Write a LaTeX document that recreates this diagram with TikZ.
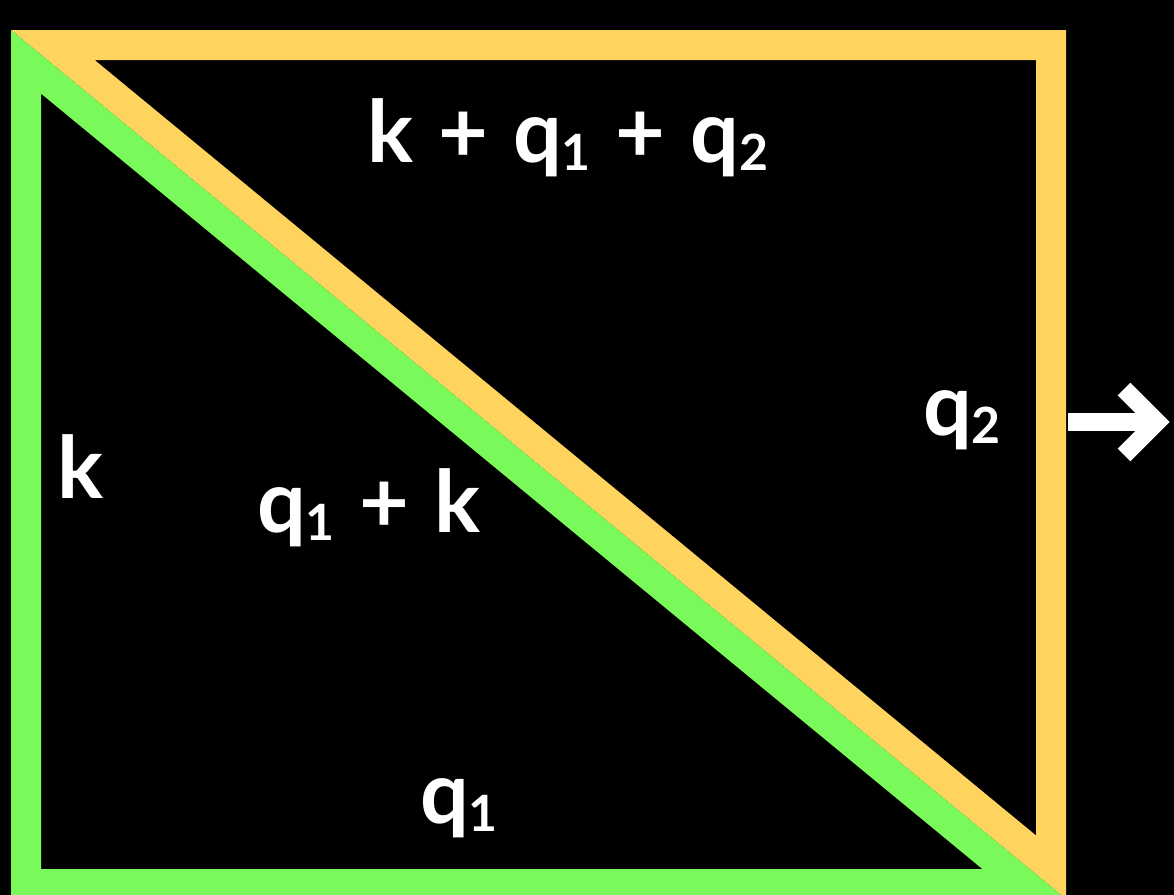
\documentclass[tikz,border=0pt]{standalone}
\usepackage{fontspec}
\setmainfont{Lato}
\definecolor{loopyellow}{RGB}{255,212,94}
\definecolor{loopgreen}{RGB}{122,250,90}
\newcommand{\lowidx}[1]{\raisebox{-4pt}{\fontsize{25}{25}\selectfont #1}}
\newcommand{\labelfont}{\fontsize{43}{50}\selectfont\bfseries\spaceskip=12.5pt\relax}

\begin{document}
\begin{tikzpicture}[x=0.5pt,y=-0.5pt,
  lbl/.style={text=white,font=\labelfont,inner sep=0pt,anchor=base},
  band/.style={line width=30pt,line join=miter},
  arr/.style={draw=white,line width=9pt,line join=miter}]
  \fill[black] (0,0) rectangle (1174,895);
  \useasboundingbox (0,0) rectangle (1174,895);
  % corners of the box
  \coordinate (tl) at (11,30);
  \coordinate (tr) at (1066,30);
  \coordinate (bl) at (11,899);
  \coordinate (br) at (1066,899);
  % upper triangle
  \begin{scope}
    \clip (tl) -- (tr) -- (br) -- cycle;
    \draw[band,loopyellow] (tl) -- (tr) -- (br) -- cycle;
  \end{scope}
  % lower triangle
  \begin{scope}
    \clip (tl) -- (bl) -- (br) -- cycle;
    \draw[band,loopgreen] (tl) -- (bl) -- (br) -- cycle;
  \end{scope}
  \node[lbl] (ksum) at (568,162) {k + q\lowidx{1} + q\lowidx{2}};
  \node[lbl] (qtwo) at (962,435) {q\lowidx{2}};
  \node[lbl] (kleft) at (80,498) {k};
  \node[lbl] (qk) at (369,532) {q\lowidx{1} + k};
  \node[lbl] (qone) at (459,823) {q\lowidx{1}};
  % momentum arrow
  \coordinate (as) at (1068,422);
  \coordinate (ae) at (1150,422);
  \coordinate (tip) at (1157,422);
  \draw[arr] (as) -- (ae);
  \draw[arr] (1124,389) -- (tip) -- (1124,455);
\end{tikzpicture}
\end{document}
